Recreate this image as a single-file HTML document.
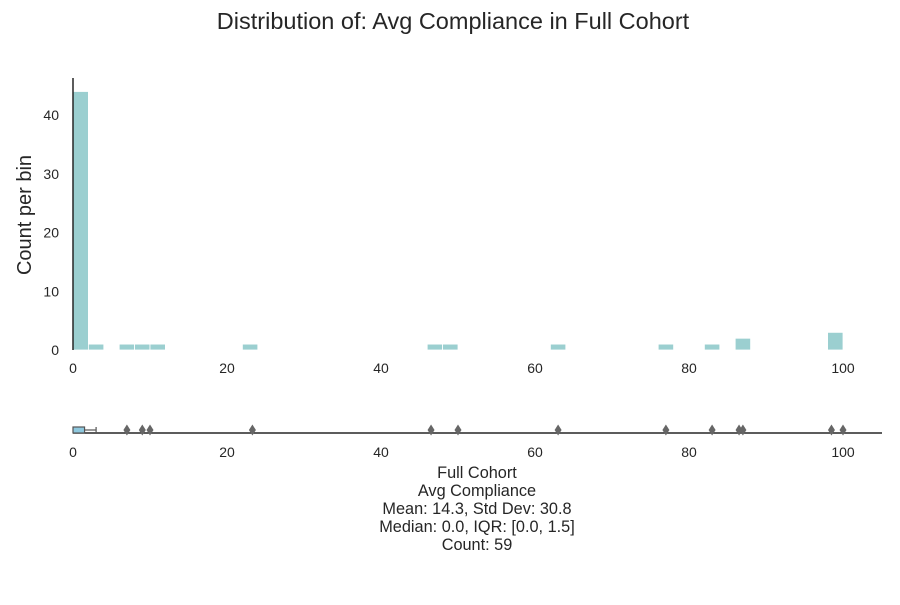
<!DOCTYPE html>
<html><head><meta charset="utf-8"><style>
body{margin:0;background:#fff;font-family:"Liberation Sans",sans-serif;}
svg text{font-family:"Liberation Sans",sans-serif;fill:#262626;}
</style></head><body>
<svg width="900" height="600">
<text x="453" y="29" font-size="23.5" text-anchor="middle">Distribution of: Avg Compliance in Full Cohort</text>
<g id="hist"></g>
<g id="box"></g>
<text x="31" y="215" font-size="20" text-anchor="middle" transform="rotate(-90 31 215)">Count per bin</text>
<g font-size="16.3" text-anchor="middle">
<text x="477" y="478">Full Cohort</text>
<text x="477" y="496">Avg Compliance</text>
<text x="477" y="514">Mean: 14.3, Std Dev: 30.8</text>
<text x="477" y="532">Median: 0.0, IQR: [0.0, 1.5]</text>
<text x="477" y="550">Count: 59</text>
</g>
</svg>
<script>
const binStarts=[0,2,6,8,10,22,46,48,62,76,82,86,98];
const binCounts=[44,1,1,1,1,1,1,1,1,1,1,2,3];
const binWidth=2;
const yTicks=[0,10,20,30,40];
const xTicks=[0,20,40,60,80,100];
const outliers=[7,9,10,23.3,46.5,50,63,77,83,86.5,87,98.5,100];
const boxStats=[0,0,1.5,3];
const NS="http://www.w3.org/2000/svg";
const xs=v=>73+v*7.7;
const ys=v=>350-v*5.875;
function mk(p,t,a){const e=document.createElementNS(NS,t);for(const k in a)e.setAttribute(k,a[k]);p.appendChild(e);return e;}
const h=document.getElementById('hist'),b=document.getElementById('box');
binStarts.forEach((s,i)=>{const r=mk(h,'rect',{x:xs(s),y:ys(binCounts[i]),width:xs(s+binWidth)-xs(s),height:ys(0)-ys(binCounts[i]),fill:'#9bcfd0',stroke:'#fff','stroke-width':0.8});

});
const sp=mk(h,'line',{x1:73,y1:78,x2:73,y2:350,stroke:'#262626','stroke-width':1.5});


yTicks.forEach(t=>{const e=mk(h,'text',{x:59,y:ys(t)+5,'font-size':14,'text-anchor':'end'});e.textContent=t;

});
xTicks.forEach(t=>{let e=mk(h,'text',{x:xs(t),y:373,'font-size':14,'text-anchor':'middle'});e.textContent=t;


e=mk(b,'text',{x:xs(t),y:457,'font-size':14,'text-anchor':'middle'});e.textContent=t;

});
const ax=mk(b,'line',{x1:73,y1:433,x2:882,y2:433,stroke:'#262626','stroke-width':1.5});


const bx=mk(b,'rect',{x:xs(boxStats[1]),y:427,width:Math.max(xs(boxStats[2])-xs(boxStats[1]),10),height:6,fill:'#8ec8de',stroke:'#555','stroke-width':1.2});


const wk=mk(b,'line',{x1:xs(boxStats[1])+Math.max(xs(boxStats[2])-xs(boxStats[1]),10),y1:430,x2:xs(boxStats[3]),y2:430,stroke:'#555','stroke-width':1.2});


const cap=mk(b,'line',{x1:xs(boxStats[3]),y1:427,x2:xs(boxStats[3]),y2:433,stroke:'#555','stroke-width':1.2});


outliers.forEach(v=>{const x=xs(v);const p=mk(b,'path',{d:`M${x} 424.5 L${x+3.5} 430 L${x} 435.5 L${x-3.5} 430Z`,fill:'#666'});

});
</script>
</body></html>
